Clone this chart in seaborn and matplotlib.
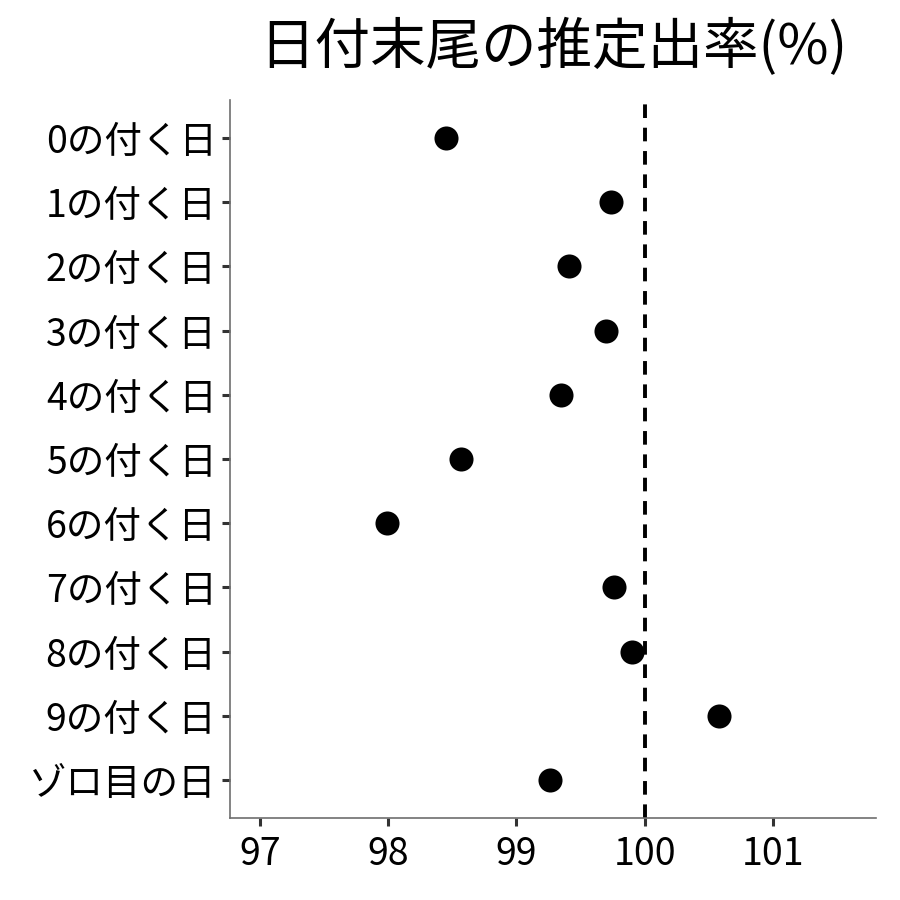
import matplotlib
matplotlib.use("Agg")
import matplotlib.pyplot as plt
import seaborn as sns
import pandas as pd

# -----------------------------
# データ
# -----------------------------
labels = ["0の付く日", "1の付く日", "2の付く日", "3の付く日", "4の付く日",
          "5の付く日", "6の付く日", "7の付く日", "8の付く日", "9の付く日",
          "ゾロ目の日"]
rates = [98.45, 99.74, 99.41, 99.70, 99.35, 98.57, 97.99, 99.76, 99.90,
         100.58, 99.26]
xticks = [97, 98, 99, 100, 101]

df = pd.DataFrame({"label": labels, "rate": rates})

sns.set_theme(style="ticks")
plt.rcParams["font.family"] = ["Noto Sans CJK JP", "DejaVu Sans"]
plt.rcParams["text.color"] = "black"

fig, ax = plt.subplots(figsize=(9, 9), dpi=100)
fig.subplots_adjust(left=0.256, right=0.973, top=0.889, bottom=0.091)

sns.scatterplot(data=df, x="rate", y="label", color="black", s=300,
                edgecolor="black", linewidth=0, ax=ax, zorder=3)
ax.axvline(100, color="black", linestyle=(0, (3.5, 2.5)), linewidth=2.8, zorder=2)

ax.set_xlim(96.77, 101.8)
ax.set_ylim(len(labels) - 0.41, -0.59)
ax.set_xticks(xticks)
ax.set_xticklabels([str(t) for t in xticks])
ax.set_xlabel("")
ax.set_ylabel("")
ax.set_title("日付末尾の推定出率(%)", fontsize=40, pad=26, color="black")

ax.tick_params(axis="both", labelsize=27, length=6, width=2.2, color="#333333",
               labelcolor="black", pad=4)
ax.tick_params(axis="x", pad=6)
for side in ["top", "right"]:
    ax.spines[side].set_visible(False)
for side in ["left", "bottom"]:
    ax.spines[side].set_color("#6e6e6e")
    ax.spines[side].set_linewidth(1.2)

fig.savefig("out.png", dpi=100)
